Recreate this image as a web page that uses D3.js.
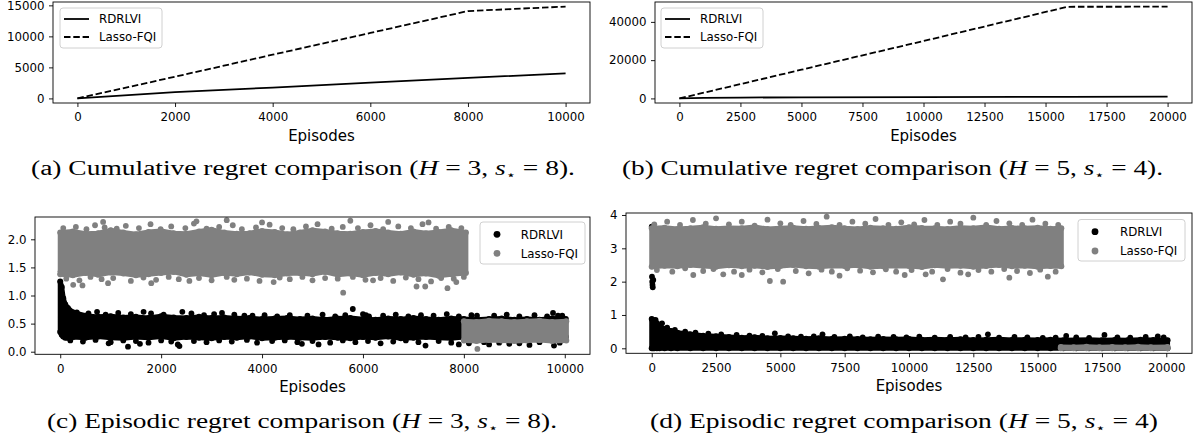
<!DOCTYPE html>
<html>
<head>
<meta charset="utf-8">
<script src="https://cdn.jsdelivr.net/npm/d3@7"></script>
<style>
body { margin: 0; background: #fff; }
svg text { font-family: "DejaVu Sans", sans-serif; }
</style>
</head>
<body>
<script>
// sizes
var W = 1194, H = 440;
var BLACK = "#000", GREY = "#808080";

// (a) cumulative regret, H=3 s=8
var aEpisodes = [0, 2000, 4000, 6000, 8000, 10000];
var aRdrlvi = [0, 1000, 1750, 2550, 3300, 4050];
var aLasso = [0, 3500, 7050, 10550, 14080, 14800];

// (b) cumulative regret, H=5 s=4
var bEpisodes = [0, 1000, 2500, 5000, 10000, 15900, 20000];
var bRdrlvi = [0, 300, 450, 550, 700, 800, 900];
var bLasso = [0, 3000, 7500, 15000, 30000, 47900, 47950];

// (c) episodic regret: dense clouds read as core envelopes + edge / stray points
var cLassoX = [0, 250, 500, 750, 1000, 1250, 1500, 1750, 2000, 2250, 2500, 2750, 3000, 3250, 3500, 3750, 4000,
  4250, 4500, 4750, 5000, 5250, 5500, 5750, 6000, 6250, 6500, 6750, 7000, 7250, 7500, 7750, 8040];
var cLassoHi = [2.12, 2.14, 2.1, 2.11, 2.16, 2.12, 2.09, 2.13, 2.15, 2.11, 2.1, 2.14, 2.17, 2.12, 2.1, 2.11,
  2.15, 2.13, 2.09, 2.12, 2.16, 2.14, 2.11, 2.1, 2.13, 2.15, 2.12, 2.1, 2.14, 2.11, 2.13, 2.16, 2.12];
var cLassoLo = [1.38, 1.36, 1.4, 1.37, 1.41, 1.39, 1.36, 1.38, 1.4, 1.42, 1.37, 1.39, 1.36, 1.4, 1.38, 1.41,
  1.37, 1.36, 1.39, 1.4, 1.38, 1.42, 1.37, 1.39, 1.36, 1.4, 1.38, 1.41, 1.37, 1.39, 1.35, 1.38, 1.4];
var cLassoX2 = [8000, 8250, 8500, 8750, 9000, 9250, 9500, 9750, 10030];
var cLassoHi2 = [0.54, 0.53, 0.55, 0.54, 0.53, 0.54, 0.55, 0.53, 0.54];
var cLassoLo2 = [0.2, 0.19, 0.21, 0.2, 0.19, 0.2, 0.21, 0.19, 0.2];
var cLassoTop = [[60, 2.2], [310, 2.22], [520, 2.18], [690, 2.25], [880, 2.21], [1120, 2.19], [1300, 2.24],
  [1560, 2.2], [1790, 2.27], [1990, 2.18], [2200, 2.23], [2480, 2.2], [2650, 2.28], [2900, 2.19], [3150, 2.22],
  [3420, 2.25], [3600, 2.18], [3880, 2.21], [4150, 2.26], [4400, 2.2], [4620, 2.18], [4870, 2.23], [5100, 2.27],
  [5380, 2.19], [5600, 2.22], [5900, 2.2], [6150, 2.25], [6400, 2.18], [6700, 2.23], [6950, 2.2], [7180, 2.27],
  [7450, 2.19], [7700, 2.22], [7950, 2.2]];
var cLassoBottom = [[120, 1.3], [380, 1.27], [600, 1.33], [820, 1.29], [1050, 1.31], [1400, 1.26], [1650, 1.32],
  [1900, 1.28], [2150, 1.33], [2350, 1.29], [2750, 1.31], [3000, 1.27], [3300, 1.33], [3700, 1.3], [3950, 1.26],
  [4350, 1.32], [4550, 1.29], [4800, 1.33], [5000, 1.27], [5250, 1.31], [5500, 1.3], [5800, 1.33], [6050, 1.28],
  [6350, 1.31], [6600, 1.26], [6850, 1.32], [7100, 1.29], [7350, 1.25], [7550, 1.31], [7800, 1.3], [8000, 1.33]];
var cLassoOut = [[257, 1.19], [441, 1.18], [948, 1.22], [1804, 1.22], [2560, 1.26], [3450, 1.28], [4230, 1.24],
  [5608, 1.05], [6200, 1.27], [7062, 1.16], [7234, 1.16], [7675, 1.13], [7850, 1.24], [8268, 0.05],
  [850, 2.31], [2700, 2.32], [3300, 2.34], [4000, 2.3], [5750, 2.33], [6500, 2.31], [7300, 2.3]];

var cRdrX = [0, 30, 60, 100, 150, 250, 500, 750, 1000, 1250, 1500, 1750, 2000, 2250, 2500, 2750, 3000, 3250,
  3500, 3750, 4000, 4250, 4500, 4750, 5000, 5250, 5500, 5750, 6000, 6250, 6500, 6750, 7000, 7250, 7500, 7750,
  8000, 8250, 8500, 8750, 9000, 9250, 9500, 9750, 10020];
var cRdrHi = [1.25, 1.15, 0.95, 0.84, 0.78, 0.7, 0.64, 0.62, 0.63, 0.61, 0.62, 0.6, 0.63, 0.61, 0.6, 0.62,
  0.6, 0.61, 0.59, 0.6, 0.58, 0.59, 0.6, 0.58, 0.59, 0.57, 0.59, 0.6, 0.58, 0.57, 0.59, 0.58, 0.6, 0.58, 0.57,
  0.59, 0.58, 0.57, 0.58, 0.59, 0.57, 0.58, 0.57, 0.59, 0.58];
var cRdrLo = [0.35, 0.3, 0.27, 0.25, 0.25, 0.26, 0.25, 0.27, 0.25, 0.24, 0.26, 0.25, 0.27, 0.24, 0.26, 0.25,
  0.24, 0.26, 0.25, 0.27, 0.24, 0.25, 0.26, 0.25, 0.24, 0.26, 0.25, 0.24, 0.26, 0.25, 0.27, 0.24, 0.25, 0.26,
  0.25, 0.24, 0.26, 0.25, 0.24, 0.26, 0.25, 0.27, 0.24, 0.25, 0.26];
var cRdrTop = [[330, 0.7], [560, 0.68], [900, 0.66], [1150, 0.69], [1400, 0.67], [1800, 0.68], [2050, 0.66],
  [2600, 0.68], [2850, 0.65], [3050, 0.67], [3450, 0.66], [3650, 0.64], [4050, 0.65], [4300, 0.63], [4550, 0.65],
  [4900, 0.64], [5200, 0.66], [5450, 0.63], [5650, 0.65], [6400, 0.64], [6650, 0.66], [6900, 0.63], [7150, 0.65],
  [7400, 0.64], [7900, 0.63], [8150, 0.65], [8600, 0.64], [8850, 0.66], [9100, 0.63], [9400, 0.65], [9650, 0.63],
  [9950, 0.64]];
var cRdrBottom = [[200, 0.2], [450, 0.18], [700, 0.21], [1000, 0.17], [1250, 0.2], [1500, 0.19], [1750, 0.16],
  [2000, 0.2], [2200, 0.18], [2650, 0.19], [2900, 0.17], [3150, 0.2], [3400, 0.18], [3700, 0.21], [3900, 0.16],
  [4200, 0.19], [4450, 0.2], [4700, 0.17], [5000, 0.19], [5350, 0.16], [5600, 0.2], [5850, 0.17], [6100, 0.19],
  [6600, 0.18], [6850, 0.2], [7100, 0.17], [7500, 0.19], [7750, 0.16], [8100, 0.15], [8400, 0.17], [8700, 0.16],
  [9100, 0.15], [9500, 0.17], [9900, 0.16]];
var cRdrOut = [[10, 1.43], [1343, 0.09], [2363, 0.1], [2330, 0.13], [730, 0.71], [1652, 0.71], [2420, 0.71],
  [3206, 0.69], [3811, 0.64], [5799, 0.76], [6000, 0.67], [6060, 0.65], [6120, 0.63], [7661, 0.67],
  [8260, 0.64], [9767, 0.69], [9866, 0.64], [9787, 0.11], [960, 0.15], [1580, 0.14], [4790, 0.14],
  [5120, 0.13], [6350, 0.15], [7240, 0.11], [7900, 0.13], [8500, 0.13], [8900, 0.14], [9300, 0.12]];

// (d) episodic regret, H=5 s=4
var dLassoX = [0, 500, 1000, 1500, 2000, 2500, 3000, 3500, 4000, 4500, 5000, 5500, 6000, 6500, 7000, 7500,
  8000, 8500, 9000, 9500, 10000, 10500, 11000, 11500, 12000, 12500, 13000, 13500, 14000, 14500, 15000,
  15500, 15920];
var dLassoHi = [3.6, 3.62, 3.58, 3.6, 3.63, 3.59, 3.61, 3.6, 3.64, 3.58, 3.6, 3.62, 3.59, 3.61, 3.63, 3.6,
  3.58, 3.62, 3.6, 3.59, 3.63, 3.61, 3.6, 3.58, 3.62, 3.6, 3.64, 3.59, 3.61, 3.6, 3.62, 3.59, 3.6];
var dLassoLo = [2.45, 2.48, 2.46, 2.5, 2.47, 2.45, 2.49, 2.46, 2.48, 2.44, 2.47, 2.5, 2.46, 2.45, 2.48, 2.47,
  2.49, 2.45, 2.46, 2.48, 2.47, 2.44, 2.49, 2.46, 2.48, 2.45, 2.47, 2.5, 2.46, 2.48, 2.45, 2.47, 2.46];
var dLassoX2 = [15900, 16400, 16900, 17400, 17900, 18400, 18900, 19400, 20050];
var dLassoHi2 = [0.04, 0.03, 0.05, 0.03, 0.04, 0.03, 0.05, 0.03, 0.04];
var dLassoLo2 = [0, 0, 0, 0, 0, 0, 0, 0, 0];
var dLassoTop = [[100, 3.72], [600, 3.8], [1100, 3.7], [1600, 3.85], [2100, 3.74], [2500, 3.9], [3000, 3.72],
  [3500, 3.8], [4000, 3.68], [4500, 3.86], [5000, 3.75], [5400, 3.7], [5900, 3.82], [6400, 3.73], [6800, 3.95],
  [7300, 3.7], [7800, 3.8], [8300, 3.74], [8700, 3.88], [9200, 3.7], [9700, 3.78], [10200, 3.72], [10600, 3.85],
  [11100, 3.7], [11600, 3.8], [12000, 3.74], [12500, 3.92], [13000, 3.7], [13400, 3.82], [13900, 3.75],
  [14400, 3.7], [14800, 3.86], [15300, 3.74], [15800, 3.7]];
var dLassoBottom = [[200, 2.35], [800, 2.3], [1300, 2.4], [2000, 2.32], [2400, 2.38], [3200, 2.3], [3800, 2.36],
  [4300, 2.28], [4900, 2.38], [5600, 2.32], [6100, 2.25], [6600, 2.36], [7000, 2.3], [7600, 2.4], [8100, 2.33],
  [8600, 2.28], [9100, 2.37], [9500, 2.3], [10100, 2.35], [10900, 2.3], [11500, 2.38], [12000, 2.27],
  [12700, 2.35], [13200, 2.3], [13700, 2.38], [14200, 2.32], [14700, 2.26], [15100, 2.36], [15700, 2.3]];
var dLassoOut = [[1615, 2.2], [2780, 2.22], [3500, 2.2], [4592, 2.02], [5108, 2.0], [7300, 2.18], [9833, 2.2],
  [10648, 2.22], [11320, 2.07], [12300, 2.22], [13900, 2.12], [15396, 2.15]];

var dRdrX = [0, 50, 100, 200, 300, 500, 750, 1000, 1500, 2000, 2500, 3000, 3500, 4000, 4500, 5000, 5500,
  6000, 6500, 7000, 7500, 8000, 8500, 9000, 9500, 10000, 10500, 11000, 11500, 12000, 12500, 13000, 13500,
  14000, 14500, 15000, 15500, 16000, 16500, 17000, 17500, 18000, 18500, 19000, 19500, 20050];
var dRdrHi = [0.88, 0.85, 0.8, 0.75, 0.65, 0.58, 0.52, 0.47, 0.42, 0.38, 0.36, 0.34, 0.32, 0.33, 0.3, 0.31,
  0.3, 0.29, 0.3, 0.28, 0.29, 0.28, 0.27, 0.28, 0.27, 0.28, 0.26, 0.27, 0.26, 0.27, 0.25, 0.26, 0.27, 0.25,
  0.26, 0.25, 0.26, 0.24, 0.25, 0.26, 0.24, 0.25, 0.24, 0.26, 0.25, 0.24];
var dRdrFloor = 0;
var dRdrTop = [[150, 0.85], [400, 0.75], [600, 0.62], [900, 0.55], [1300, 0.5], [1700, 0.47], [2200, 0.44],
  [2700, 0.42], [3300, 0.4], [3800, 0.38], [4300, 0.37], [5300, 0.36], [5800, 0.35], [6300, 0.36], [7100, 0.34],
  [7700, 0.36], [8200, 0.33], [8800, 0.35], [9400, 0.34], [9900, 0.33], [10400, 0.35], [11000, 0.32],
  [11600, 0.34], [12200, 0.33], [12700, 0.34], [13500, 0.32], [14100, 0.34], [14600, 0.33], [15200, 0.31],
  [15700, 0.32], [16500, 0.33], [17000, 0.31], [18100, 0.33], [18600, 0.32], [19200, 0.34], [19900, 0.33]];
var dRdrOut = [[0, 3.65], [10, 2.15], [20, 2.0], [30, 1.9], [40, 1.83], [60, 2.05], [4786, 0.45],
  [6638, 0.42], [13068, 0.42], [16110, 0.37], [17597, 0.4], [19670, 0.36]];

// captions
var capLabels = ["(a) Cumulative regret comparison", "(b) Cumulative regret comparison",
  "(c) Episodic regret comparison", "(d) Episodic regret comparison"];
var capH = [3, 5, 3, 5];
var capS = [8, 4, 8, 4];
var capEnd = [").", ").", ").", ")"];

var svg = d3.select("body").append("svg").attr("width", W).attr("height", H);

var panel = function(p) {
  var x = d3.scaleLinear().domain(p.xDom).range([p.left, p.right]);
  var y = d3.scaleLinear().domain(p.yDom).range([p.bottom, p.top]);
  var g = svg.append("g");
  svg.append("clipPath").attr("id", "clip" + p.id)
    .append("rect")
    .attr("x", p.left).attr("y", p.top)
    .attr("width", p.right - p.left).attr("height", p.bottom - p.top);
  var plot = g.append("g").attr("clip-path", "url(#clip" + p.id + ")");

  var xa = g.append("g").attr("transform", "translate(0," + p.bottom + ")")
    .call(d3.axisBottom(x).tickValues(p.xTicks).tickFormat(d3.format("d")).tickSize(4).tickPadding(6));
  var ya = g.append("g").attr("transform", "translate(" + p.left + ",0)")
    .call(d3.axisLeft(y).tickValues(p.yTicks).tickFormat(p.yFmt).tickSize(4).tickPadding(4.5));
  [xa, ya].forEach(function(a) {
    a.select(".domain").remove();
    a.selectAll("line").attr("stroke", "#000").attr("stroke-width", 0.9);
    a.selectAll("text").attr("fill", "#000").style("font-size", "11.8px")
      .style("font-family", "'DejaVu Sans', sans-serif");
  });

  g.append("text")
    .attr("x", (p.left + p.right) / 2).attr("y", p.bottom + 38)
    .attr("text-anchor", "middle").style("font-size", "15px")
    .text("Episodes");

  return { g: g, plot: plot, x: x, y: y, p: p };
};

var frame = function(P) {
  P.g.append("rect")
    .attr("x", P.p.left).attr("y", P.p.top)
    .attr("width", P.p.right - P.p.left).attr("height", P.p.bottom - P.p.top)
    .attr("fill", "none").attr("stroke", "#000").attr("stroke-width", 0.9);
};

var drawLine = function(P, xs, ys, dashed) {
  P.plot.append("path")
    .datum(xs.map(function(d, i) { return [d, ys[i]]; }))
    .attr("d", d3.line().x(function(d) { return P.x(d[0]); }).y(function(d) { return P.y(d[1]); }))
    .attr("fill", "none").attr("stroke", BLACK).attr("stroke-width", 1.8)
    .attr("stroke-dasharray", dashed ? "6.5,2.8" : null);
};

// dense part of a scatter cloud: filled core with dots along its edges
var band = function(P, xs, lo, hi, color) {
  var pts = xs.map(function(d, i) {
    return { x: d, lo: (typeof lo === "number") ? lo : lo[i], hi: hi[i] };
  });
  P.plot.append("path").datum(pts)
    .attr("d", d3.area()
      .x(function(d) { return P.x(d.x); })
      .y0(function(d) { return P.y(d.lo); })
      .y1(function(d) { return P.y(d.hi); }))
    .attr("fill", color).attr("stroke", color)
    .attr("stroke-width", 5).attr("stroke-linejoin", "round");
  ["lo", "hi"].forEach(function(k) {
    P.plot.selectAll(null).data(pts).enter().append("circle")
      .attr("cx", function(d) { return P.x(d.x); })
      .attr("cy", function(d) { return P.y(d[k]); })
      .attr("r", 3).attr("fill", color);
  });
};

var dots = function(P, pts, color) {
  P.plot.selectAll(null).data(pts).enter().append("circle")
    .attr("cx", function(d) { return P.x(d[0]); })
    .attr("cy", function(d) { return P.y(d[1]); })
    .attr("r", 2.9).attr("fill", color);
};

var legendBox = function(x, y, w, h) {
  svg.append("rect").attr("x", x).attr("y", y).attr("width", w).attr("height", h)
    .attr("rx", 3).attr("fill", "#fff").attr("fill-opacity", 0.8)
    .attr("stroke", "#d0d0d0").attr("stroke-width", 1);
};

var lineLegend = function(x, y) {
  legendBox(x, y, 102, 40);
  [["RDRLVI", null], ["Lasso-FQI", "6.5,2.8"]].forEach(function(e, i) {
    var ry = y + 11 + i * 18;
    svg.append("line").attr("x1", x + 4).attr("x2", x + 29).attr("y1", ry).attr("y2", ry)
      .attr("stroke", BLACK).attr("stroke-width", 1.8).attr("stroke-dasharray", e[1]);
    svg.append("text").attr("x", x + 39).attr("y", ry + 4.3).style("font-size", "11.8px").text(e[0]);
  });
};

var dotLegend = function(x, y, w, h, mx, tx, r1, r2) {
  legendBox(x, y, w, h);
  [["RDRLVI", BLACK, r1], ["Lasso-FQI", GREY, r2]].forEach(function(e) {
    svg.append("circle").attr("cx", mx).attr("cy", e[2]).attr("r", 3.4).attr("fill", e[1]);
    svg.append("text").attr("x", tx).attr("y", e[2] + 4.3).style("font-size", "11.8px").text(e[0]);
  });
};

// panel a
var A = panel({ id: "a", left: 53, right: 590, top: 2, bottom: 103, xDom: [-500, 10500], yDom: [-740, 15540],
  xTicks: [0, 2000, 4000, 6000, 8000, 10000], yTicks: [0, 5000, 10000, 15000], yFmt: d3.format("d") });
drawLine(A, aEpisodes, aRdrlvi, false);
drawLine(A, aEpisodes, aLasso, true);
frame(A);
lineLegend(60, 8);

// panel b
var B = panel({ id: "b", left: 655, right: 1192, top: 2, bottom: 103, xDom: [-1000, 21000], yDom: [-2400, 50400],
  xTicks: [0, 2500, 5000, 7500, 10000, 12500, 15000, 17500, 20000], yTicks: [0, 20000, 40000],
  yFmt: d3.format("d") });
drawLine(B, bEpisodes, bRdrlvi, false);
drawLine(B, bEpisodes, bLasso, true);
frame(B);
lineLegend(661, 8);

// panel c
var C = panel({ id: "c", left: 35, right: 590, top: 217, bottom: 354.3, xDom: [-500, 10500], yDom: [-0.046, 2.397],
  xTicks: [0, 2000, 4000, 6000, 8000, 10000], yTicks: [0, 0.5, 1, 1.5, 2], yFmt: d3.format(".1f") });
band(C, cRdrX, cRdrLo, cRdrHi, BLACK);
dots(C, cRdrTop, BLACK);
dots(C, cRdrBottom, BLACK);
dots(C, cRdrOut, BLACK);
band(C, cLassoX, cLassoLo, cLassoHi, GREY);
band(C, cLassoX2, cLassoLo2, cLassoHi2, GREY);
dots(C, cLassoTop, GREY);
dots(C, cLassoBottom, GREY);
dots(C, cLassoOut, GREY);
frame(C);
dotLegend(480, 222, 105, 42, 497, 520.7, 234.3, 253.3);

// panel d
var D = panel({ id: "d", left: 626, right: 1192, top: 213, bottom: 353.3, xDom: [-1000, 21000], yDom: [-0.15, 4.06],
  xTicks: [0, 2500, 5000, 7500, 10000, 12500, 15000, 17500, 20000], yTicks: [0, 1, 2, 3, 4],
  yFmt: d3.format("d") });
band(D, dRdrX, dRdrFloor, dRdrHi, BLACK);
dots(D, dRdrTop, BLACK);
dots(D, dRdrOut, BLACK);
band(D, dLassoX, dLassoLo, dLassoHi, GREY);
band(D, dLassoX2, dLassoLo2, dLassoHi2, GREY);
dots(D, dLassoTop, GREY);
dots(D, dLassoBottom, GREY);
dots(D, dLassoOut, GREY);
frame(D);
dotLegend(1078, 219.5, 107, 41.5, 1095, 1120, 231.7, 251);

// captions
var capPos = [[303, 175, 544], [892.5, 175, 541], [302, 428, 510], [904, 428, 508]];
capLabels.forEach(function(lab, i) {
  var t = svg.append("text")
    .attr("x", capPos[i][0]).attr("y", capPos[i][1])
    .attr("text-anchor", "middle")
    .attr("textLength", capPos[i][2]).attr("lengthAdjust", "spacingAndGlyphs")
    .style("font-family", "'Liberation Serif', 'DejaVu Serif', serif")
    .style("font-size", "20px");
  t.append("tspan").text(lab + " (");
  t.append("tspan").style("font-style", "italic").text("H");
  t.append("tspan").text(" = " + capH[i] + ", ");
  t.append("tspan").style("font-style", "italic").text("s");
  t.append("tspan").attr("dy", 4).style("font-size", "12px").style("font-family", "'DejaVu Sans', sans-serif").text("\u22C6");
  t.append("tspan").attr("dy", -4).text(" = " + capS[i] + capEnd[i]);
});
</script>
</body>
</html>
